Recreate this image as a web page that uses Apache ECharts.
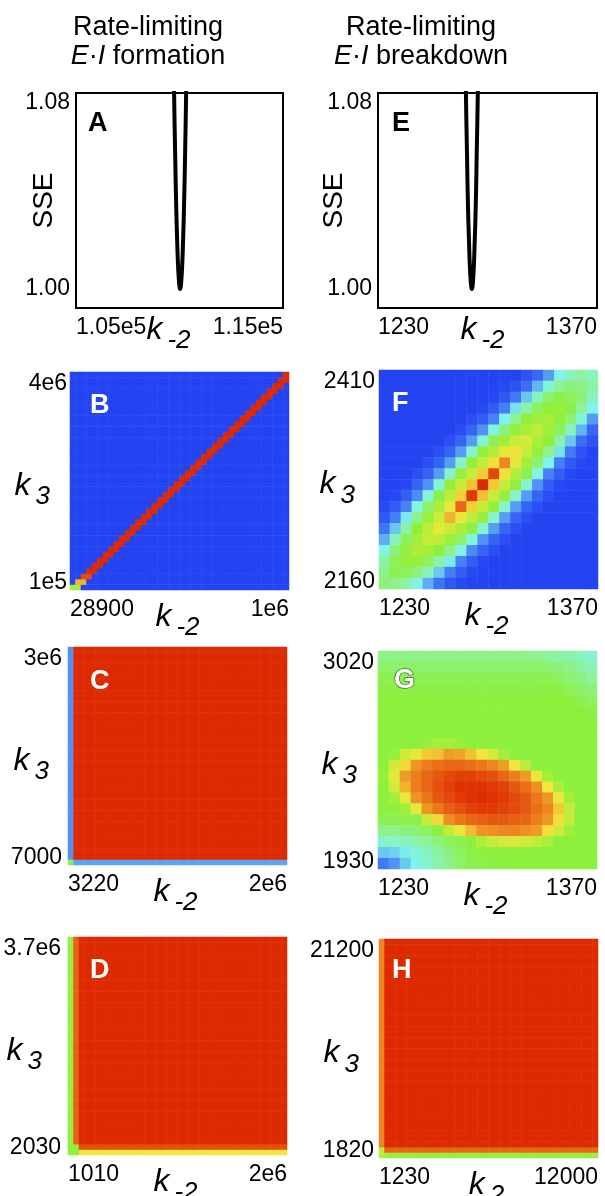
<!DOCTYPE html>
<html>
<head>
<meta charset="utf-8">
<title>Rate-limiting E·I scans</title>
<script src="https://cdn.jsdelivr.net/npm/echarts@6.0.0/dist/echarts.min.js"></script>
<style>
  html, body { margin: 0; padding: 0; background: #fff; }
  #chart { width: 605px; height: 1196px; }
</style>
</head>
<body>
<div id="chart"></div>
<script>
const FONT = '"Liberation Sans", Arial, Helvetica, sans-serif';

// ---- A / E : SSE profile along k-2 ----
const A_kMinus2 = [109670, 109740, 109790, 109840, 109890, 109930, 109970, 110000, 110030,
  110060, 110090, 110130, 110170, 110220, 110270, 110320, 110390];
const A_sse = [1.130, 1.084, 1.058, 1.036, 1.020, 1.010, 1.004, 1.001, 1.000,
  1.001, 1.004, 1.010, 1.020, 1.036, 1.058, 1.084, 1.130];
const E_kMinus2 = [1285.3, 1286.2, 1286.9, 1287.5, 1288.2, 1288.7, 1289.2, 1289.6, 1290.0,
  1290.4, 1290.8, 1291.3, 1291.8, 1292.5, 1293.1, 1293.8, 1294.7];
const E_sse = [1.130, 1.084, 1.058, 1.036, 1.020, 1.010, 1.004, 1.001, 1.000,
  1.001, 1.004, 1.010, 1.020, 1.036, 1.058, 1.084, 1.130];

// axis ranges + end labels
const A_xRange = [1.05e5, 1.15e5], A_xLabels = ['1.05e5', '1.15e5'];
const E_xRange = [1230, 1370], E_xLabels = ['1230', '1370'];
const SSE_range = [0.9918, 1.0843];
const SSE_ticks = [1.00, 1.08], SSE_tickLabels = ['1.00', '1.08'];

const B_xRange = [28900, 1e6], B_xLabels = ['28900', '1e6'];
const B_yRange = [1e5, 4e6], B_yLabels = ['1e5', '4e6'];
const F_xRange = [1230, 1370], F_xLabels = ['1230', '1370'];
const F_yRange = [2160, 2410], F_yLabels = ['2160', '2410'];
const C_xRange = [3220, 2e6], C_xLabels = ['3220', '2e6'];
const C_yRange = [7000, 3e6], C_yLabels = ['7000', '3e6'];
const G_xRange = [1230, 1370], G_xLabels = ['1230', '1370'];
const G_yRange = [1930, 3020], G_yLabels = ['1930', '3020'];
const D_xRange = [1010, 2e6], D_xLabels = ['1010', '2e6'];
const D_yRange = [2030, 3.7e6], D_yLabels = ['2030', '3.7e6'];
const H_xRange = [1230, 12000], H_xLabels = ['1230', '12000'];
const H_yRange = [1820, 21200], H_yLabels = ['1820', '21200'];

// ---- heatmap values (0 = worst fit / blue, 100 = best fit / red) ----
// B: narrow ridge along the diagonal, value per row of the ridge (bottom -> top)
const B_band = [55, 82, 96, 100, 100, 100, 100, 100, 100, 100, 100, 100, 100, 100, 100, 100,
  100, 100, 100, 100, 100, 100, 100, 100, 100, 100, 100, 100, 100, 100, 100, 100, 100, 100,
  100, 100, 100, 100, 100, 100];

// F: rows from top to bottom
const F_rows = [
  [0, 0, 0, 0, 0, 0, 0, 0, 0, 0, 0, 0, 0, 3, 7, 15, 25, 32, 36, 32],
  [0, 0, 0, 0, 0, 0, 0, 0, 0, 0, 0, 1, 3, 8, 18, 28, 38, 42, 40, 36],
  [0, 0, 0, 0, 0, 0, 0, 0, 0, 0, 1, 4, 10, 20, 32, 43, 48, 46, 42, 32],
  [0, 0, 0, 0, 0, 0, 0, 0, 0, 1, 5, 11, 23, 35, 46, 51, 52, 48, 38, 25],
  [0, 0, 0, 0, 0, 0, 0, 0, 2, 5, 12, 25, 39, 50, 54, 56, 51, 43, 28, 15],
  [0, 0, 0, 0, 0, 0, 0, 2, 6, 14, 27, 42, 52, 57, 60, 54, 46, 32, 18, 7],
  [0, 0, 0, 0, 0, 0, 2, 6, 15, 29, 47, 55, 62, 66, 57, 50, 35, 20, 8, 3],
  [0, 0, 0, 0, 0, 2, 6, 15, 30, 51, 58, 70, 76, 62, 52, 39, 23, 10, 3, 0],
  [0, 0, 0, 0, 2, 6, 15, 30, 52, 61, 76, 88, 70, 55, 42, 25, 11, 4, 1, 0],
  [0, 0, 0, 2, 6, 15, 30, 52, 62, 79, 96, 76, 58, 47, 27, 12, 5, 1, 0, 0],
  [0, 0, 1, 6, 14, 29, 52, 62, 80, 100, 79, 61, 51, 29, 14, 5, 1, 0, 0, 0],
  [0, 1, 5, 13, 28, 48, 60, 78, 98, 80, 62, 52, 30, 15, 6, 2, 0, 0, 0, 0],
  [1, 5, 12, 26, 44, 56, 71, 92, 78, 62, 52, 30, 15, 6, 2, 0, 0, 0, 0, 0],
  [4, 11, 24, 40, 53, 64, 82, 71, 60, 52, 30, 15, 6, 2, 0, 0, 0, 0, 0, 0],
  [9, 20, 36, 50, 60, 70, 64, 56, 48, 29, 15, 6, 2, 0, 0, 0, 0, 0, 0, 0],
  [17, 32, 46, 55, 62, 60, 53, 44, 28, 14, 6, 2, 0, 0, 0, 0, 0, 0, 0, 0],
  [26, 42, 52, 57, 55, 50, 40, 26, 13, 6, 2, 0, 0, 0, 0, 0, 0, 0, 0, 0],
  [36, 46, 52, 52, 46, 36, 24, 12, 5, 1, 0, 0, 0, 0, 0, 0, 0, 0, 0, 0],
  [40, 47, 46, 42, 32, 20, 11, 5, 1, 0, 0, 0, 0, 0, 0, 0, 0, 0, 0, 0],
  [42, 40, 36, 26, 17, 9, 4, 1, 0, 0, 0, 0, 0, 0, 0, 0, 0, 0, 0, 0]
];

// G: rows from top to bottom
const G_rows = [
  [40, 40, 40, 40, 40, 40, 40, 40, 40, 40, 40, 40, 40, 40, 39, 38, 37, 35, 33, 30],
  [44, 44, 44, 44, 44, 44, 44, 44, 44, 44, 44, 44, 44, 44, 44, 43, 42, 40, 37, 34],
  [47, 47, 47, 47, 47, 47, 47, 47, 47, 47, 47, 47, 47, 47, 47, 47, 45, 43, 41, 38],
  [49, 49, 49, 49, 49, 49, 49, 49, 49, 49, 49, 49, 49, 49, 49, 49, 49, 46, 44, 42],
  [50, 50, 50, 50, 50, 50, 50, 50, 50, 50, 50, 50, 50, 50, 50, 50, 50, 50, 47, 45],
  [50, 50, 50, 50, 50, 50, 50, 50, 50, 50, 50, 50, 50, 50, 50, 50, 50, 50, 50, 48],
  [50, 50, 50, 50, 50, 50, 50, 50, 50, 50, 50, 50, 50, 50, 50, 50, 50, 50, 50, 50],
  [50, 50, 50, 50, 50, 50, 50, 50, 50, 50, 50, 50, 50, 50, 50, 50, 50, 50, 50, 50],
  [50, 50, 50, 50, 52, 55, 55, 52, 50, 50, 50, 50, 50, 50, 50, 50, 50, 50, 50, 50],
  [50, 52, 64, 72, 79, 80, 85, 84, 80, 74, 65, 55, 50, 50, 50, 50, 50, 50, 50, 50],
  [50, 65, 77, 86, 89, 91, 92, 92, 91, 90, 88, 85, 74, 60, 50, 50, 50, 50, 50, 50],
  [52, 69, 85, 89, 92, 94, 96, 97, 97, 96, 95, 92, 89, 85, 71, 55, 50, 50, 50, 50],
  [50, 65, 82, 89, 92, 95, 97, 99, 99, 99, 98, 97, 94, 91, 87, 75, 57, 50, 50, 50],
  [50, 54, 71, 86, 90, 94, 96, 98, 99, 100, 99, 98, 96, 94, 90, 86, 71, 55, 50, 50],
  [50, 50, 54, 70, 86, 90, 93, 95, 97, 98, 98, 97, 96, 94, 91, 88, 79, 61, 50, 50],
  [47, 47, 48, 48, 62, 77, 87, 90, 92, 93, 94, 94, 93, 92, 89, 86, 76, 61, 50, 50],
  [40, 40, 41, 43, 45, 49, 61, 72, 81, 86, 87, 88, 88, 87, 85, 76, 65, 54, 50, 50],
  [30, 31, 32, 35, 38, 42, 45, 47, 50, 57, 62, 66, 67, 65, 61, 56, 50, 50, 50, 50],
  [20, 21, 24, 28, 32, 37, 41, 45, 48, 50, 50, 50, 50, 50, 50, 50, 50, 50, 50, 50],
  [10, 14, 20, 25, 30, 35, 40, 44, 47, 48, 49, 50, 50, 50, 50, 50, 50, 50, 50, 50]
];

// C, D, H: flat optimum with thin strips along the low-k edges
const C_left = [14], C_bottom = [16], C_corner = 48, C_body = 100;
const D_left = [52, 93], D_bottom = [74, 95], D_corner = 50, D_body = 100;
const H_left = [88], H_bottom = [52, 92], H_corner = 60, H_body = 100;

// jet-like scale
const jet = ['#2444f2', '#4a86f5', '#80f4ec', '#8ef29c', '#8cf03c', '#c8ec3a', '#f5e63c', '#ee8a22', '#dd2a00'];

// ---------- builders ----------
function idx(n) {
  return Array.from({ length: n }, (_, i) => i);
}
function matrixCells(rows) {
  const n = rows.length, out = [];
  rows.forEach((row, r) => row.forEach((v, c) => out.push([c, n - 1 - r, v])));
  return out;
}
function bandCells(band) {
  const n = band.length, out = [];
  for (let r = 0; r < n; r++) {
    for (let c = 0; c < n; c++) {
      out.push([c, r, (c === r || c === r + 1) ? band[r] : 0]);
    }
  }
  return out;
}
function edgeCells(n, left, bottom, corner, body) {
  const out = [];
  for (let r = 0; r < n; r++) {
    for (let c = 0; c < n; c++) {
      let v = body;
      if (c < left.length && r < bottom.length) v = corner;
      else if (c < left.length) v = left[c];
      else if (r < bottom.length) v = bottom[r];
      out.push([c, r, v]);
    }
  }
  return out;
}
function pick(v, range, labels) {
  return Math.abs(v - range[0]) <= Math.abs(v - range[1]) ? labels[0] : labels[1];
}

const tickText = { fontFamily: FONT, fontSize: 23, color: '#000' };
const nameRich = {
  k: { fontFamily: FONT, fontSize: 32, fontStyle: 'italic', color: '#000', lineHeight: 34, verticalAlign: 'top' },
  s: { fontFamily: FONT, fontSize: 26, fontStyle: 'italic', color: '#000', lineHeight: 25, verticalAlign: 'top', padding: [14, 0, 0, 5] }
};
function kName(sub) {
  return '{k|k}{s|' + sub + '}';
}
const hidden = { show: false };

const option = {
  animation: false,
  backgroundColor: '#fff',
  title: [],
  grid: [],
  xAxis: [],
  yAxis: [],
  series: [],
  visualMap: {
    type: 'continuous', show: false, min: 0, max: 100, dimension: 2,
    seriesIndex: [], inRange: { color: jet }
  }
};

function xLabelAxis(g, range, labels, sub, nameGap, shift) {
  return {
    type: 'value', gridIndex: g, position: 'bottom', min: range[0], max: range[1],
    axisLine: hidden, axisTick: hidden, splitLine: hidden,
    axisLabel: {
      ...tickText, margin: 8, customValues: range,
      alignMinLabel: 'left', alignMaxLabel: 'right',
      formatter: v => pick(v, range, labels)
    },
    name: kName(sub), nameLocation: 'middle', nameGap, nameMoveOverlap: false,
    nameTextStyle: { rich: nameRich, padding: [0, shift, 0, 0] }
  };
}
function yLabelAxis(g, range, labels, margin) {
  return {
    type: 'value', gridIndex: g, position: 'left', min: range[0], max: range[1],
    axisLine: hidden, axisTick: hidden, splitLine: hidden,
    axisLabel: {
      ...tickText, margin, customValues: range,
      verticalAlignMinLabel: 'bottom', verticalAlignMaxLabel: 'top',
      formatter: v => pick(v, range, labels) === labels[0]
        ? '{lo|' + labels[0] + '}' : '{hi|' + labels[1] + '}',
      rich: { lo: { ...tickText, lineHeight: 15 }, hi: { ...tickText, lineHeight: 24 } }
    }
  };
}

function addGrid(box, extra) {
  option.grid.push(Object.assign({
    left: box[0], top: box[1], width: box[2], height: box[3],
    containLabel: false, outerBoundsMode: 'none'
  }, extra));
  return option.grid.length - 1;
}

function addLinePanel(box, xRange, xLabels, ks, sse, sseGap, nameShift) {
  const g = addGrid(box, { show: true, borderColor: '#000', borderWidth: 2, backgroundColor: '#fff' });
  const xi = option.xAxis.length, yi = option.yAxis.length;
  option.xAxis.push(xLabelAxis(g, xRange, xLabels, '-2', 6, nameShift));
  option.yAxis.push({
    type: 'value', gridIndex: g, position: 'left', min: SSE_range[0], max: SSE_range[1],
    axisLine: hidden, axisTick: hidden, splitLine: hidden,
    axisLabel: { ...tickText, margin: 6, customValues: SSE_ticks,
      formatter: v => pick(v, SSE_ticks, SSE_tickLabels) },
    name: 'SSE', nameLocation: 'middle', nameRotate: 90, nameGap: sseGap, nameMoveOverlap: false,
    nameTextStyle: { fontFamily: FONT, fontSize: 28, color: '#000' }
  });
  option.series.push({
    type: 'line', xAxisIndex: xi, yAxisIndex: yi, clip: true, smooth: true,
    showSymbol: false, data: ks.map((k, i) => [k, sse[i]]),
    lineStyle: { color: '#000', width: 4 }
  });
}

function addHeatPanel(box, n, cells, xRange, xLabels, yRange, yLabels, sub, yGap, yMargin) {
  const g = addGrid(box, {});
  const xc = option.xAxis.length;
  option.xAxis.push({ type: 'category', gridIndex: g, position: 'bottom', data: idx(n), show: false });
  option.xAxis.push(xLabelAxis(g, xRange, xLabels, sub, 11, 4));
  const yc = option.yAxis.length;
  option.yAxis.push({ type: 'category', gridIndex: g, position: 'left', data: idx(n), show: false });
  const yl = yLabelAxis(g, yRange, yLabels, yMargin);
  Object.assign(yl, {
    name: kName('3'), nameLocation: 'middle', nameRotate: 0, nameGap: yGap,
    nameMoveOverlap: false, nameTextStyle: { rich: nameRich, padding: [12, 0, 0, 0] }
  });
  option.yAxis.push(yl);
  option.visualMap.seriesIndex.push(option.series.length);
  option.series.push({
    type: 'heatmap', xAxisIndex: xc, yAxisIndex: yc, data: cells,
    progressive: 0, emphasis: { disabled: true }
  });
}

addLinePanel([76, 93, 207, 215], A_xRange, A_xLabels, A_kMinus2, A_sse, 18, 22);
addLinePanel([378, 93, 219, 215], E_xRange, E_xLabels, E_kMinus2, E_sse, 30, 10);
addHeatPanel([70, 372, 219, 218], 40, bandCells(B_band), B_xRange, B_xLabels, B_yRange, B_yLabels, '-2', 20, 3);
addHeatPanel([379, 370, 219, 219], 20, matrixCells(F_rows), F_xRange, F_xLabels, F_yRange, F_yLabels, '-2', 24, 4);
addHeatPanel([68, 647, 219, 218], 40, edgeCells(40, C_left, C_bottom, C_corner, C_body), C_xRange, C_xLabels, C_yRange, C_yLabels, '-2', 19, 6);
addHeatPanel([378, 651, 219, 218], 20, matrixCells(G_rows), G_xRange, G_xLabels, G_yRange, G_yLabels, '-2', 21, 4);
addHeatPanel([68, 937, 219, 218], 40, edgeCells(40, D_left, D_bottom, D_corner, D_body), D_xRange, D_xLabels, D_yRange, D_yLabels, '-2', 26, 7);
addHeatPanel([379, 939, 219, 219], 40, edgeCells(40, H_left, H_bottom, H_corner, H_body), H_xRange, H_xLabels, H_yRange, H_yLabels, '2', 20, 5);

// column headers
const headStyle = {
  fontFamily: FONT, fontSize: 27, fontWeight: 'normal', color: '#000', lineHeight: 29,
  rich: { i: { fontFamily: FONT, fontSize: 27, fontStyle: 'italic', color: '#000', lineHeight: 29 } }
};
option.title.push(
  { text: 'Rate-limiting\n{i|E}·{i|I} formation', left: 148, top: 13, textAlign: 'center', padding: 0, textStyle: headStyle },
  { text: 'Rate-limiting\n{i|E}·{i|I} breakdown', left: 421, top: 13, textAlign: 'center', padding: 0, textStyle: headStyle }
);

// panel letters
const letters = [
  ['A', 88, 110, '#000'], ['E', 392, 110, '#000'],
  ['B', 90, 392, '#fff'], ['F', 392, 390, '#fff'],
  ['C', 90, 668, '#fff'], ['G', 394, 667, '#fff'],
  ['D', 90, 957, '#fff'], ['H', 392, 957, '#fff']
];
letters.forEach(([t, x, y, color]) => {
  option.title.push({
    text: t, left: x, top: y, padding: 0,
    textStyle: {
      fontFamily: FONT, fontSize: 27, fontWeight: 'bold', color,
      textBorderColor: t === 'G' ? 'rgba(0,0,0,0.55)' : 'transparent',
      textBorderWidth: t === 'G' ? 1.5 : 0
    }
  });
});

const chart = echarts.init(document.getElementById('chart'), null, { renderer: 'canvas' });
chart.setOption(option);
</script>
</body>
</html>
